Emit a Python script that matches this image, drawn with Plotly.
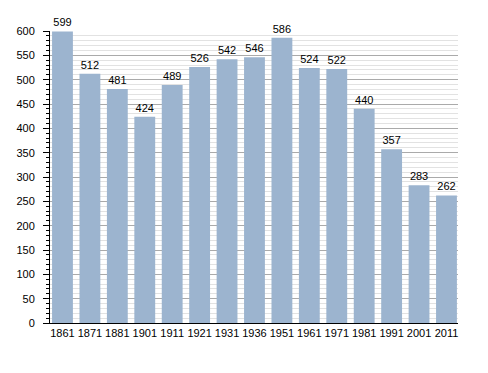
import plotly.graph_objects as go

years = ["1861", "1871", "1881", "1901", "1911", "1921", "1931", "1936",
         "1951", "1961", "1971", "1981", "1991", "2001", "2011"]
population = [599, 512, 481, 424, 489, 526, 542, 546, 586, 524, 522, 440, 357, 283, 262]

FONT = "Liberation Sans, Arial"

fig = go.Figure(go.Bar(
    x=years, y=population,
    text=[str(v) for v in population],
    textposition="outside",
    textfont=dict(family=FONT, size=11, color="#000000"),
    marker=dict(color="#9cb4cf", line=dict(width=0)),
    cliponaxis=False,
))

fig.update_layout(
    width=488, height=373,
    margin=dict(l=50, r=30, t=31, b=50),
    paper_bgcolor="white", plot_bgcolor="white",
    bargap=0.24,
    showlegend=False,
    font=dict(family=FONT, size=11, color="#000000"),
)
fig.update_xaxes(
    type="category",
    range=[-0.455, 14.42],
    showline=True, linecolor="#000000", linewidth=1,
    ticks="", showgrid=False,
    tickangle=0,
    tickfont=dict(size=11),
)
fig.update_yaxes(
    range=[0, 600],
    dtick=50,
    showline=True, linecolor="#000000", linewidth=1,
    ticks="outside", ticklen=6, tickcolor="#000000",
    ticklabelstandoff=6,
    showgrid=True, gridcolor="#aaaaaa", gridwidth=1,
    zeroline=False,
    minor=dict(dtick=10, ticks="outside", ticklen=3, tickcolor="#000000",
               showgrid=True, gridcolor="#e2e2e2", gridwidth=1),
    tickfont=dict(size=11),
)

fig.write_html("out.html", config={"displayModeBar": False},
               post_script="document.body.style.margin='0';document.body.style.overflow='hidden';")
